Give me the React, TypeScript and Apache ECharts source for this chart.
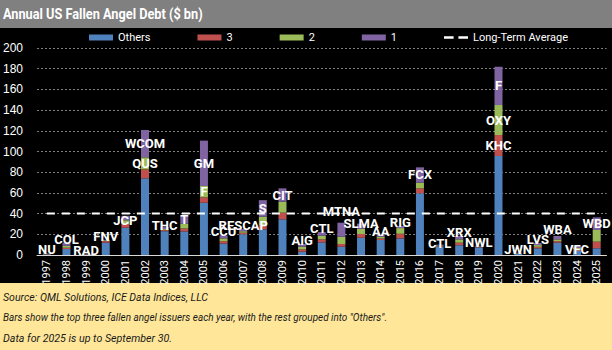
import React, { useEffect, useRef } from "react";
import * as echarts from "echarts";

const years = ["1997","1998","1999","2000","2001","2002","2003","2004","2005","2006","2007","2008","2009","2010","2011","2012","2013","2014","2015","2016","2017","2018","2019","2020","2021","2022","2023","2024","2025"];
const others = [0.6, 5.8, 0.4, 11.9, 26.4, 74.1, 23, 22.8, 50.5, 11, 20, 24.8, 34.5, 3.2, 12.2, 8, 16.7, 14.5, 16, 59.6, 8, 9.4, 7.4, 95.7, 1, 6.5, 11.9, 4.2, 6.5];
const third = [0.3, 1.2, 0.2, 1.5, 3.6, 8.7, 1, 2.8, 5.2, 2.3, 1.5, 4.2, 6.4, 2.2, 2.9, 2.6, 3.6, 1.5, 4.5, 4.8, 0.5, 2.5, 0.4, 20.2, 0.3, 1.4, 1.5, 1.3, 6.4];
const second = [0.3, 2, 0.2, 0.8, 3.5, 11.6, 1, 4.6, 11, 2.8, 1.5, 8, 10.6, 2.6, 3.5, 7.1, 5, 1.7, 5.5, 5.5, 0.5, 3.2, 0.4, 29, 0.4, 1.7, 1.7, 1.2, 11.3];
const first = [0.3, 2.9, 0.3, 0.5, 4.5, 26.4, 2, 7.8, 43.8, 2.8, 2, 16, 12.9, 2.6, 3.5, 13.5, 5, 2, 2, 14.8, 1, 3.3, 0.6, 37, 0.5, 2, 3.3, 1.5, 12.2];
const issuer1 = ["NU","COL","RAD","FNV","JCP","WCOM","THC","T","GM","CCU","RESCAP","S","CIT","AIG","CTL","MTNA","SLMA","AA","RIG","FCX","CTL","XRX","NWL","F","JWN","LVS","WBA","VFC","WBD"];
const issuer2: Record<string, string> = { "2002": "QUS", "2005": "F", "2020": "OXY" };
const issuer3: Record<string, string> = { "2020": "KHC" };
const longTermAverage = 40;
const yTicks = { min: 0, max: 200, interval: 20 };

const seriesNames = ["Others", "3", "2", "1"];
const avgName = "Long-Term Average";
const titleText = "Annual US Fallen Angel Debt ($ bn)";
const footerLines = [
  "Source: QML Solutions, ICE Data Indices, LLC",
  'Bars show the top three fallen angel issuers each year, with the rest grouped into "Others".',
  "Data for 2025 is up to September 30.",
];

// ---- styling (not data) ----
const centerLabelYears = ["2002", "2004", "2005", "2008", "2009", "2016", "2020", "2025"];
const topLabelDistance: Record<string, number> = {
  "2001": -11, "2003": -5, "2012": 5, "2013": -6, "2017": -5, "2023": 0, "2024": -9,
};
const footerY = [297, 317, 338];
const footerScaleX = [0.963, 0.905, 0.97];

const FONT = '"Roboto", "Liberation Sans", sans-serif';
const COLORS = ["#4F81BD", "#C0504D", "#9BBB59", "#8064A2"];

export default function App() {
  const ref = useRef<HTMLDivElement>(null);
  useEffect(() => {
    if (!ref.current) return;
    const chart = echarts.init(ref.current, undefined, { renderer: "svg" });
    const labelBase = {
      color: "#fff",
      fontWeight: "bold" as const,
      fontSize: 13,
      fontFamily: FONT,
    };
    const insideLabel = (name: string) => ({
      show: !!name,
      position: "inside" as const,
      formatter: name,
      ...labelBase,
    });
    const s1Data = first.map((v, i) => {
      const y = years[i];
      const name = issuer1[i];
      const label = centerLabelYears.includes(y)
        ? insideLabel(name)
        : {
            show: true,
            position: "top" as const,
            distance: topLabelDistance[y] ?? -3,
            formatter: name,
            ...labelBase,
          };
      return { value: v, label };
    });
    const s2Data = second.map((v, i) => ({ value: v, label: insideLabel(issuer2[years[i]] || "") }));
    const s3Data = third.map((v, i) => ({ value: v, label: insideLabel(issuer3[years[i]] || "") }));

    const barCommon = { type: "bar" as const, stack: "total", barWidth: 8 };
    chart.setOption({
      animation: false,
      backgroundColor: "#000",
      graphic: [
        { type: "rect", z: -10, shape: { x: 0, y: 0, width: 612, height: 28 }, style: { fill: "#808080" } },
        { type: "rect", z: -10, shape: { x: 0, y: 283, width: 612, height: 67 }, style: { fill: "#FFE699" } },
        {
          type: "text", z: 10, x: 3, y: 14, scaleX: 0.91,
          style: { text: titleText, fill: "#fff", fontSize: 14, fontWeight: "bold", fontFamily: FONT, verticalAlign: "middle" },
        },
        ...footerLines.map((t, i) => ({
          type: "text", z: 10, x: 3, y: footerY[i], scaleX: footerScaleX[i],
          style: { text: t, fill: "#1a1a1a", fontSize: 11, fontStyle: "italic", fontFamily: FONT, verticalAlign: "middle" },
        })),
      ],
      legend: {
        top: 27,
        left: 84,
        itemWidth: 24,
        itemHeight: 6,
        itemGap: 47,
        textStyle: { color: "#fff", fontSize: 11, fontFamily: FONT },
        data: [
          ...seriesNames.map((n) => ({ name: n, icon: "rect" })),
          { name: avgName, icon: "path://M0,0H8V2H0Z M12,0H20V2H12Z", itemStyle: { color: "#fff" } },
        ],
      },
      grid: { left: 37, right: 5.5, top: 48, bottom: 95 },
      xAxis: {
        type: "category",
        data: years,
        axisLine: { lineStyle: { color: "#d9d9d9", width: 1 } },
        axisTick: { show: false },
        axisLabel: { rotate: 90, color: "#fff", fontSize: 11, fontFamily: FONT, margin: 5, interval: 0 },
      },
      yAxis: {
        type: "value",
        min: yTicks.min,
        max: yTicks.max,
        interval: yTicks.interval,
        axisLine: { show: false },
        axisTick: { show: false },
        axisLabel: { color: "#fff", fontSize: 12, fontFamily: '"Liberation Sans", Arial, sans-serif', margin: 14 },
        splitLine: { lineStyle: { color: "#808080", type: [2, 2], width: 1 } },
      },
      series: [
        { ...barCommon, name: "Others", data: others, itemStyle: { color: COLORS[0] } },
        { ...barCommon, name: "3", data: s3Data, itemStyle: { color: COLORS[1] } },
        { ...barCommon, name: "2", data: s2Data, itemStyle: { color: COLORS[2] } },
        { ...barCommon, name: "1", data: s1Data, itemStyle: { color: COLORS[3] } },
        {
          type: "line",
          name: avgName,
          data: years.map(() => longTermAverage),
          symbol: "none",
          z: 5,
          lineStyle: { color: "#fff", width: 2, type: [8, 7] },
          itemStyle: { color: "#fff" },
        },
      ],
    });
    return () => chart.dispose();
  }, []);
  return <div ref={ref} style={{ position: "fixed", left: 0, top: 0, width: 612, height: 350 }} />;
}
